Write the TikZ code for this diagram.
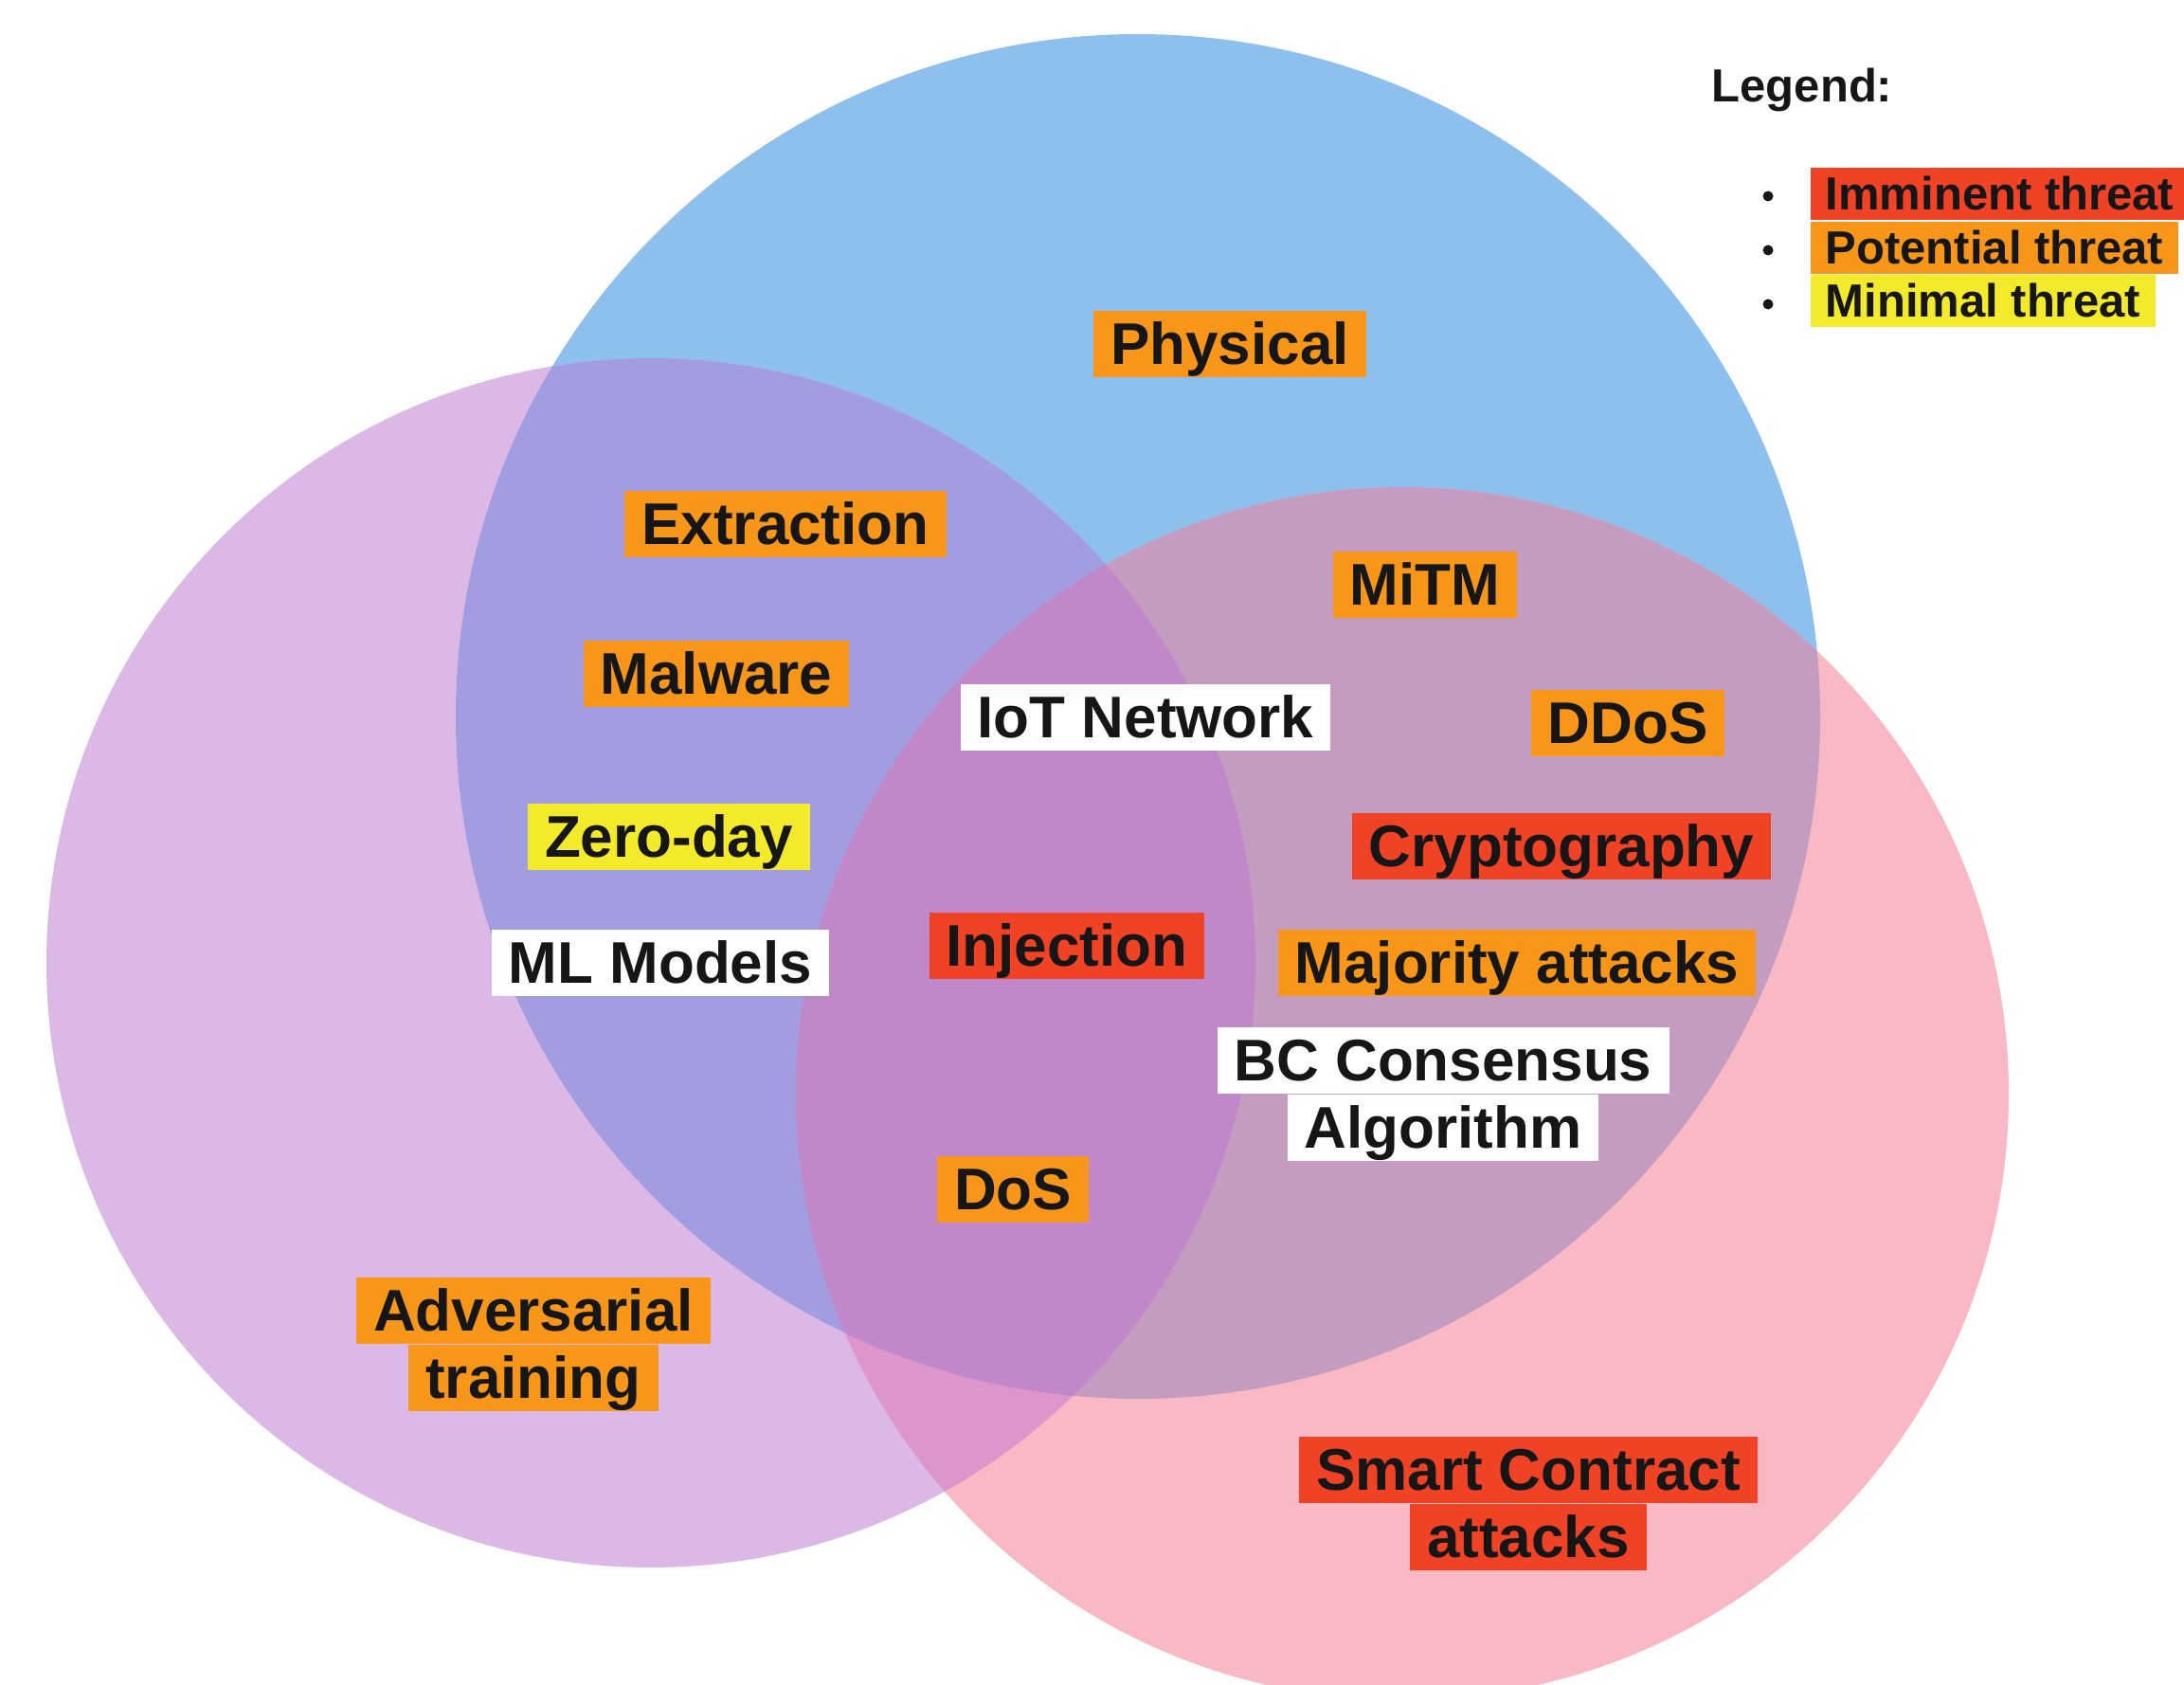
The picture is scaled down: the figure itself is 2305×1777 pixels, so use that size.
\documentclass[tikz,border=0pt]{standalone}
\usepackage{fontspec}
\setmainfont{Liberation Sans}
\usetikzlibrary{positioning}

% set colours
\definecolor{setblue}{RGB}{142,192,238}
\definecolor{setpurple}{RGB}{220,184,230}
\definecolor{setpink}{RGB}{248,184,196}
\definecolor{blueXpurple}{RGB}{162,156,224}
\definecolor{blueXpink}{RGB}{196,156,192}
\definecolor{purpleXpink}{RGB}{220,150,204}
\definecolor{allthree}{RGB}{192,136,200}
% threat levels
\definecolor{imminent}{RGB}{240,66,36}
\definecolor{potential}{RGB}{247,150,24}
\definecolor{minimal}{RGB}{244,234,44}
\definecolor{ink}{RGB}{22,22,22}

\begin{document}
\begin{tikzpicture}[x=0.1mm, y=-0.1mm,
  tag/.style={font=\fontsize{17.64pt}{21pt}\selectfont\bfseries, text=ink,
    inner xsep=1.8mm, inner ysep=0pt, text height=5.6mm, text depth=1.35mm},
  imm/.style={tag, fill=imminent},
  pot/.style={tag, fill=potential},
  mini/.style={tag, fill=minimal},
  area/.style={tag, fill=white},
  keybox/.style={font=\fontsize{13.94pt}{17pt}\selectfont\bfseries, text=ink,
    inner xsep=1.6mm, inner ysep=0pt, text height=4.4mm, text depth=1.1mm, anchor=west},
  dot/.style={circle, fill=ink, inner sep=0pt, minimum size=1.1mm},
  stacked/.style={below=0pt of #1}
]
\useasboundingbox (0,0) rectangle (2305,1777);
\clip (0,0) rectangle (2305,1777);

% the three sets
\fill[setblue]   (1201,756)  circle[radius=72mm];
\fill[setpurple] (687,1016)  circle[radius=63.8mm];
\fill[setpink]   (1480,1154) circle[radius=64mm];

% purple and pink overlap
\begin{scope}
  \clip (687,1016) circle[radius=63.8mm];
  \fill[purpleXpink] (1480,1154) circle[radius=64mm];
\end{scope}

% overlaps with the blue set
\begin{scope}
  \clip (1201,756) circle[radius=72mm];
  \fill[blueXpurple] (687,1016) circle[radius=63.8mm];
  \fill[blueXpink] (1480,1154) circle[radius=64mm];
  \clip (687,1016) circle[radius=63.8mm];
  \fill[allthree] (1480,1154) circle[radius=64mm];
\end{scope}

% labels
\node[pot]  (physical)   at (1298,363)  {Physical};
\node[pot]  (extraction) at (829,553)   {Extraction};
\node[pot]  (mitm)       at (1504,617)  {MiTM};
\node[pot]  (malware)    at (756,711)   {Malware};
\node[area] (iot)        at (1209,757)  {IoT Network};
\node[pot]  (ddos)       at (1718,763)  {DDoS};
\node[mini] (zeroday)    at (706,883)   {Zero-day};
\node[imm]  (crypto)     at (1648,893)  {Cryptography};
\node[area] (ml)         at (697,1016)  {ML Models};
\node[imm]  (injection)  at (1126,998)  {Injection};
\node[pot]  (majority)   at (1601,1016) {Majority attacks};
\node[area] (bc-a)       at (1523,1119) {BC Consensus};
\node[area, stacked=bc-a] (bc-b) {Algorithm};
\node[pot]  (dos)        at (1069,1255) {DoS};
\node[pot]  (adv-a)      at (563,1383)  {Adversarial};
\node[pot, stacked=adv-a] (adv-b) {training};
\node[imm]  (smart-a)    at (1613,1551) {Smart Contract};
\node[imm, stacked=smart-a] (smart-b) {attacks};

% legend
\node[font=\fontsize{13.94pt}{17pt}\selectfont\bfseries, text=ink, anchor=base west,
  inner sep=0pt] (legend) at (1806,108) {Legend:};
\node[dot] (b1) at (1866,207) {};
\node[dot] (b2) at (1866,264) {};
\node[dot] (b3) at (1866,321) {};
\node[keybox, fill=imminent]  (k1) at (1910,205) {Imminent threat};
\node[keybox, fill=potential] (k2) at (1910,262) {Potential threat};
\node[keybox, fill=minimal]   (k3) at (1910,318) {Minimal threat};
\end{tikzpicture}
\end{document}
